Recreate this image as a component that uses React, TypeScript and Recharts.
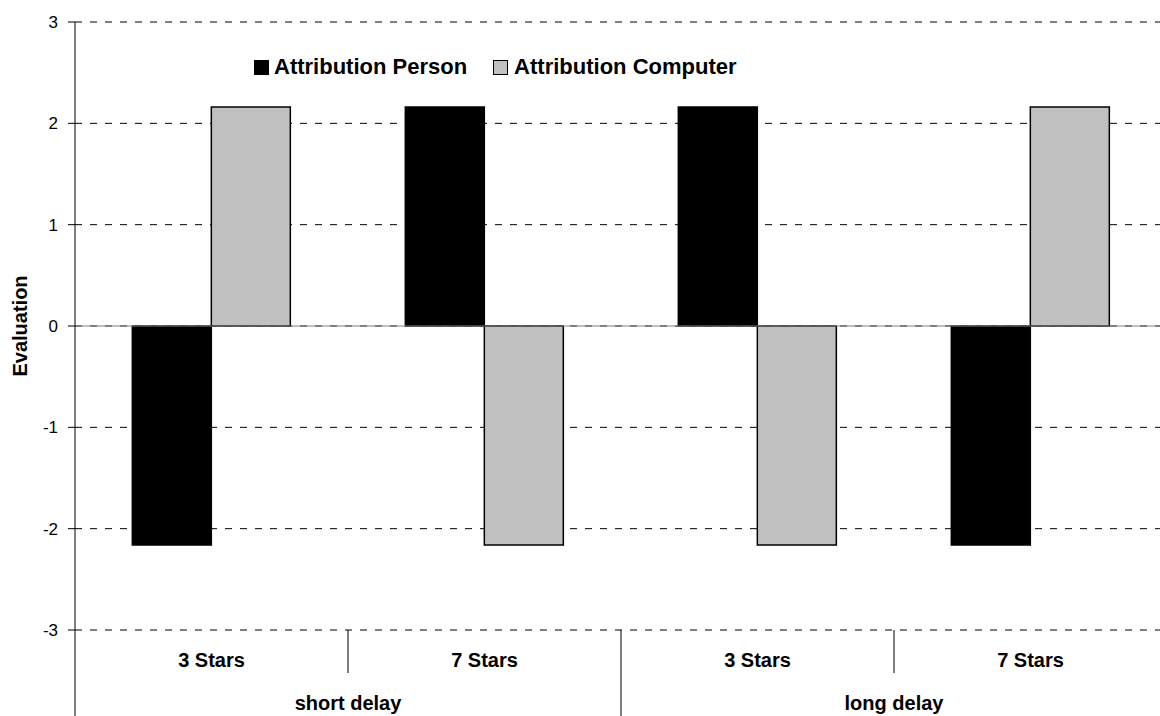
import React from 'react';
import { BarChart, Bar, XAxis, YAxis, CartesianGrid, ReferenceLine, Legend } from 'recharts';

const stars = ['3 Stars', '7 Stars', '3 Stars', '7 Stars'];
const delays = ['short delay', 'short delay', 'long delay', 'long delay'];
const personValues = [-2.16, 2.16, 2.16, -2.16];
const computerValues = [2.16, -2.16, -2.16, 2.16];
const yTicks = [-3, -2, -1, 0, 1, 2, 3];
const seriesNames = ['Attribution Person', 'Attribution Computer'];

const data = stars.map((s, i) => ({
  id: i,
  stars: s,
  delay: delays[i],
  person: personValues[i],
  computer: computerValues[i],
}));

const FONT = '"Liberation Sans", Arial, Helvetica, sans-serif';

// Two-level category axis: star rating on the first row, delay group below,
// separated by vertical dividers at the band edges.
const MultiLevelTick = (props: any) => {
  const { x, y, payload, index } = props;
  const half = payload && payload.offset ? payload.offset : 0;
  const i = index;
  const right = x + half;
  const left = x - half;
  const elems: React.ReactNode[] = [];
  elems.push(
    <text key="s" x={x} y={y + 37} textAnchor="middle" fontFamily={FONT} fontWeight="bold" fontSize={20} fill="#000">
      {stars[i]}
    </text>
  );
  if (i === 0) {
    elems.push(<line key="axisExt" x1={left} x2={left} y1={y} y2={y + 86} stroke="#000" strokeWidth={1} />);
  }
  const isGroupEnd = i === delays.length - 1 || delays[i] !== delays[i + 1];
  if (isGroupEnd) {
    elems.push(<line key="gsep" x1={right} x2={right} y1={y} y2={y + 86} stroke="#000" strokeWidth={1} />);
  } else {
    elems.push(<line key="sep" x1={right} x2={right} y1={y} y2={y + 43} stroke="#000" strokeWidth={1} />);
    elems.push(
      <text key="g" x={right} y={y + 80} textAnchor="middle" fontFamily={FONT} fontWeight="bold" fontSize={20} fill="#000">
        {delays[i]}
      </text>
    );
  }
  return <g>{elems}</g>;
};

const YLabel = (props: any) => {
  const vb = props.viewBox || { x: 0, y: 0, width: 0, height: 0 };
  const cy = vb.y + vb.height / 2;
  return (
    <text x={20} y={cy} transform={`rotate(-90, 20, ${cy})`} textAnchor="middle" dominantBaseline="central"
      fontFamily={FONT} fontWeight="bold" fontSize={20} fill="#000">
      Evaluation
    </text>
  );
};

const LegendContent = () => (
  <div style={{ display: 'flex', alignItems: 'center', fontFamily: FONT, fontWeight: 'bold', fontSize: 22, color: '#000', whiteSpace: 'nowrap' }}>
    <span style={{ display: 'inline-block', width: 15, height: 15, background: '#000', marginRight: 5 }} />
    <span style={{ marginRight: 26 }}>{seriesNames[0]}</span>
    <span style={{ display: 'inline-block', width: 13, height: 13, background: '#c0c0c0', border: '1px solid #000', marginRight: 6 }} />
    <span>{seriesNames[1]}</span>
  </div>
);

export default function App() {
  return (
    <div style={{ position: 'absolute', left: 0, top: 0, width: 1160, height: 716, overflow: 'hidden', background: '#fff' }}>
      <BarChart
        width={1180}
        height={716}
        data={data}
        margin={{ top: 22, right: 13, bottom: 0, left: 0 }}
        barGap={0}
        barCategoryGap="21%"
      >
        <CartesianGrid horizontal vertical={false} stroke="#000" strokeDasharray="7 8" />
        <XAxis
          dataKey="id"
          type="category"
          height={86}
          axisLine={false}
          tickLine={false}
          tickSize={0}
          tickMargin={0}
          interval={0}
          tick={<MultiLevelTick />}
        />
        <YAxis
          width={75}
          domain={[-3, 3]}
          ticks={yTicks}
          interval={0}
          axisLine={{ stroke: '#000' }}
          tickLine={{ stroke: '#000' }}
          tickSize={7}
          tickMargin={10}
          tick={{ fontFamily: FONT, fontSize: 17, fill: '#000' }}
          label={<YLabel />}
        />
        <Legend
          layout="horizontal"
          verticalAlign="middle"
          align="center"
          content={<LegendContent />}
          wrapperStyle={{ left: 254, top: 54, width: 'auto', height: 'auto' }}
        />
        <Bar dataKey="person" name={seriesNames[0]} fill="#000" stroke="#000" strokeWidth={1.5} isAnimationActive={false} />
        <Bar dataKey="computer" name={seriesNames[1]} fill="#c0c0c0" stroke="#000" strokeWidth={1.5} isAnimationActive={false} />
        <ReferenceLine y={0} stroke="#808080" strokeWidth={1} />
      </BarChart>
    </div>
  );
}
